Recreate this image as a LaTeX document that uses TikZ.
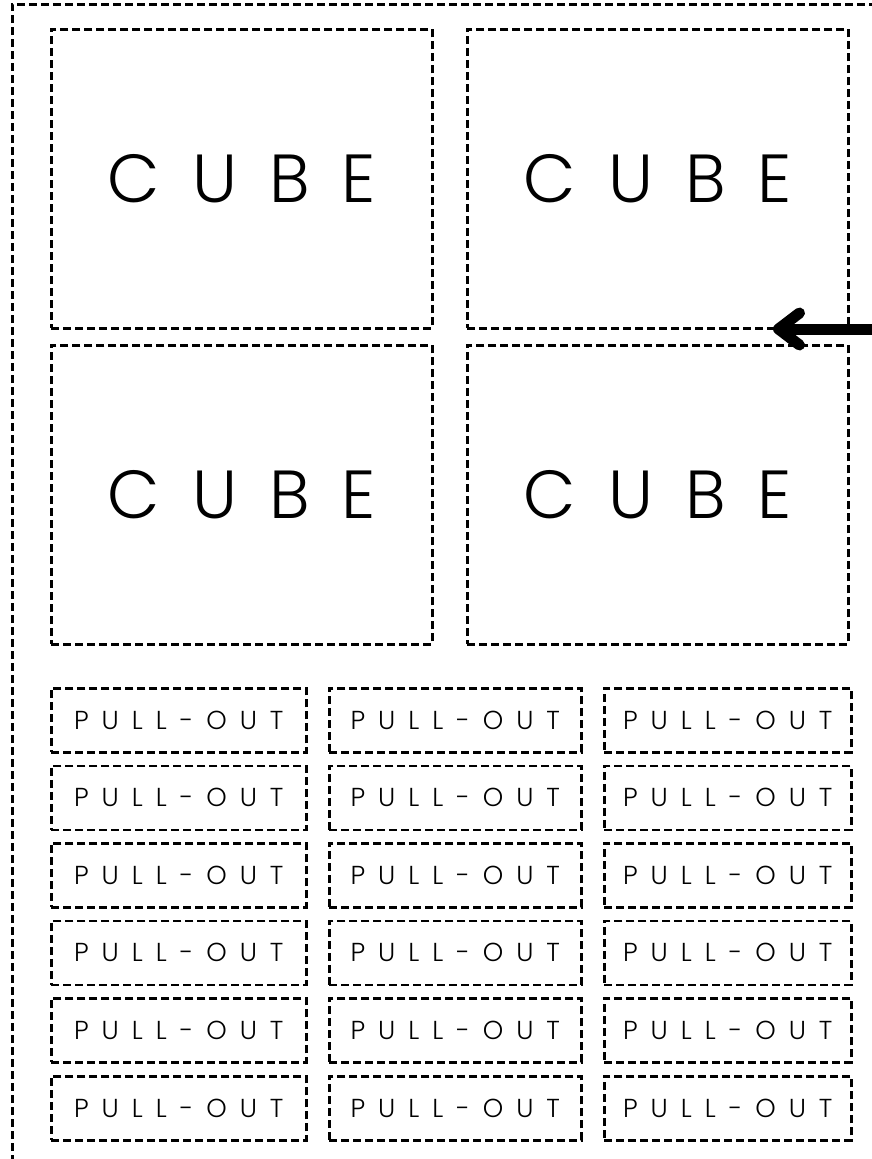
\documentclass[tikz,border=0pt]{standalone}
\usepackage{fontspec}
\setmainfont{Poppins Light}
\usetikzlibrary{arrows.meta}
\newcommand\cubeword{C\hspace{32pt}U\hspace{32pt}B\hspace{32pt}E}
\newcommand\pullword{P\hspace{13pt}U\hspace{13pt}L\hspace{13pt}L\hspace{13pt}-\hspace{13pt}O\hspace{13pt}U\hspace{13pt}T}
\begin{document}
\begin{tikzpicture}[x=1pt,y=-1pt,
  cutline/.style={draw=black, line width=2.5pt, dash pattern=on 8pt off 4pt},
  cubebox/.style={cutline, rectangle, inner sep=0pt, minimum width=381pt, minimum height=299pt, anchor=north west, font=\fontsize{68}{68}\selectfont},
  pullbox/.style={cutline, rectangle, inner sep=0pt, minimum height=64pt, anchor=north west, font=\fontsize{26}{26}\selectfont},
  pointer/.style={line width=11pt, line cap=round, line join=round, -{Straight Barb[length=21pt, width=32pt, round]}}]
\useasboundingbox (0,0) rectangle (872,1159);
% outer cut frame
\coordinate (fbl) at (12,1175);
\coordinate (ftl) at (12,4);
\coordinate (ftr) at (885,4);
\draw[cutline, line width=3pt] (fbl) -- (ftl) -- (ftr);
% cubes
\node[cubebox] (c1) at (50,28) {\cubeword};
\node[cubebox] (c2) at (466,28) {\cubeword};
\node[cubebox] (c3) at (50,344) {\cubeword};
\node[cubebox] (c4) at (466,344) {\cubeword};
% pull-outs
\foreach \r/\y in {1/687,2/764.5,3/842,4/919.5,5/997,6/1075}{
  \node[pullbox, minimum width=255pt] (p\r-1) at (50,\y) {\pullword};
  \node[pullbox, minimum width=252pt] (p\r-2) at (328,\y) {\pullword};
  \node[pullbox, minimum width=247pt] (p\r-3) at (603,\y) {\pullword};
}
% arrow
\coordinate (astart) at (880,329);
\coordinate (atip) at (773,329);
\draw[pointer] (astart) -- (atip);
\end{tikzpicture}
\end{document}
